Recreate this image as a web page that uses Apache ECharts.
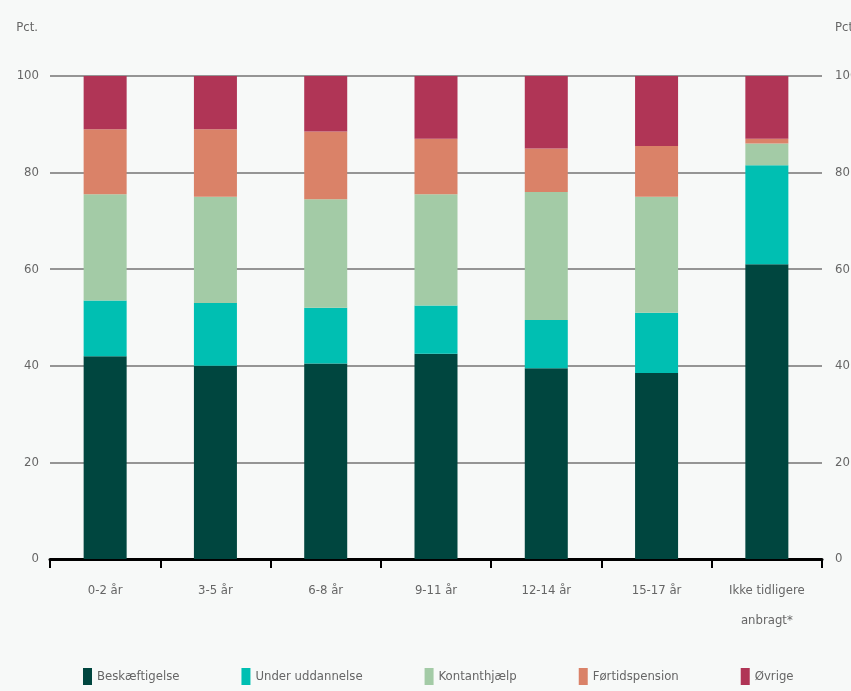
<!DOCTYPE html>
<html>
<head>
<meta charset="utf-8">
<script src="https://cdn.jsdelivr.net/npm/echarts@6/dist/echarts.min.js"></script>
<style>
  html, body { margin: 0; padding: 0; background: #f7f9f8; }
  #chart { width: 851px; height: 691px; }
</style>
</head>
<body>
<div id="chart"></div>
<script>
const categories = ['0-2 år', '3-5 år', '6-8 år', '9-11 år', '12-14 år', '15-17 år', 'Ikke tidligere\nanbragt*']
const seriesNames = ['Beskæftigelse', 'Under uddannelse', 'Kontanthjælp', 'Førtidspension', 'Øvrige']
const beskaeftigelse = [42, 40, 40.5, 42.5, 39.5, 38.5, 61]
const underUddannelse = [11.5, 13, 11.5, 10, 10, 12.5, 20.5]
const kontanthjaelp = [22, 22, 22.5, 23, 26.5, 24, 4.5]
const foertidspension = [13.5, 14, 14, 11.5, 9, 10.5, 1]
const oevrige = [11, 11, 11.5, 13, 15, 14.5, 13]

const colors = ['#00463f', '#00bfb2', '#a3cba6', '#da8268', '#b03556']
const font = "'Liberation Sans Narrow', 'Arial Narrow', 'DejaVu Sans Condensed', sans-serif"
const textGray = '#666'

const chart = echarts.init(document.getElementById('chart'))
const values = [beskaeftigelse, underUddannelse, kontanthjaelp, foertidspension, oevrige]

chart.setOption({
  backgroundColor: '#f7f9f8',
  animation: false,
  color: colors,
  grid: { left: 50, right: 29, top: 76, bottom: 132, outerBoundsMode: 'none', containLabel: false },
  legend: {
    bottom: 1,
    left: 78,
    itemWidth: 9,
    itemHeight: 17,
    itemGap: 62,
    icon: 'rect',
    textStyle: { fontFamily: font, fontSize: 13, color: textGray },
    data: seriesNames
  },
  xAxis: {
    type: 'category',
    data: categories,
    axisLine: { lineStyle: { color: '#000', width: 3 } },
    axisTick: { show: true, length: 9, lineStyle: { color: '#000', width: 2 } },
    axisLabel: { margin: 17, fontFamily: font, fontSize: 13, color: textGray, lineHeight: 30, interval: 0 }
  },
  yAxis: [
    {
      type: 'value', min: 0, max: 100, interval: 20,
      name: 'Pct.', nameLocation: 'end', nameGap: 42,
      nameTextStyle: { fontFamily: font, fontSize: 13, color: textGray, align: 'right', padding: [0, 12, 0, 0] },
      axisLine: { show: false }, axisTick: { show: false },
      axisLabel: { margin: 11, fontFamily: font, fontSize: 13, color: textGray },
      splitLine: { lineStyle: { color: '#959595', width: 2 } }
    },
    {
      type: 'value', min: 0, max: 100, interval: 20, position: 'right',
      name: 'Pct.', nameLocation: 'end', nameGap: 42,
      nameTextStyle: { fontFamily: font, fontSize: 13, color: textGray, align: 'left', padding: [0, 0, 0, 13] },
      axisLine: { show: false }, axisTick: { show: false },
      axisLabel: { margin: 13, fontFamily: font, fontSize: 13, color: textGray },
      splitLine: { show: false }
    }
  ],
  series: seriesNames.map((name, i) => ({
    name,
    type: 'bar',
    stack: 'total',
    barWidth: '39%',
    data: values[i]
  }))
})
</script>
</body>
</html>
